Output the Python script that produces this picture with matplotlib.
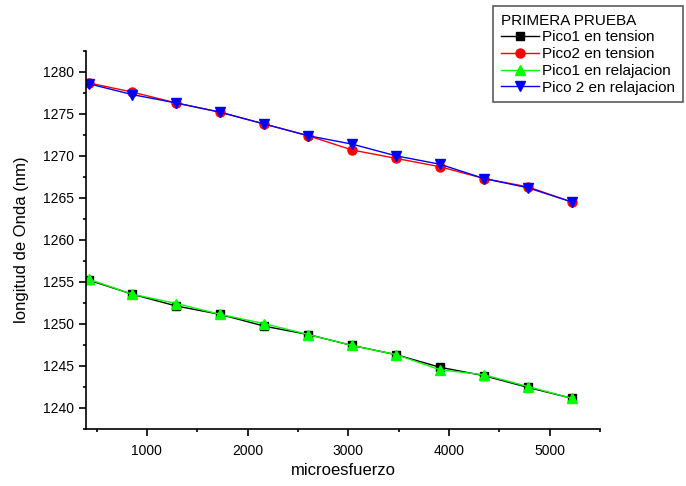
import matplotlib
matplotlib.use("Agg")
import matplotlib.pyplot as plt
from matplotlib.ticker import MultipleLocator

plt.rcParams['font.family'] = ['Liberation Sans', 'DejaVu Sans']

x = [420, 856, 1293, 1729, 2165, 2602, 3038, 3475, 3911, 4347, 4784, 5220]
pico1_tension = [1255.2, 1253.5, 1252.1, 1251.1, 1249.7, 1248.7, 1247.4, 1246.3, 1244.8, 1243.8, 1242.4, 1241.1]
pico2_tension = [1278.7, 1277.6, 1276.3, 1275.2, 1273.8, 1272.4, 1270.7, 1269.7, 1268.7, 1267.3, 1266.3, 1264.5]
pico1_relajacion = [1255.3, 1253.5, 1252.4, 1251.1, 1250.0, 1248.7, 1247.4, 1246.3, 1244.5, 1243.9, 1242.5, 1241.1]
pico2_relajacion = [1278.6, 1277.3, 1276.3, 1275.2, 1273.8, 1272.4, 1271.4, 1270.0, 1269.0, 1267.3, 1266.2, 1264.5]

labels = ["Pico1 en tension", "Pico2 en tension", "Pico1 en relajacion", "Pico 2 en relajacion"]
legend_title = "PRIMERA PRUEBA"
xlabel = "microesfuerzo"
ylabel = "longitud de Onda (nm)"

fig = plt.figure(figsize=(6.86, 4.86), dpi=100)
ax = fig.add_axes([86/686, 1-428.5/486, (600-86)/686, (428.5-51)/486])

ax.plot(x, pico1_tension, color='black', marker='s', markersize=5.5, linewidth=1, label=labels[0])
ax.plot(x, pico2_tension, color='red', marker='o', markersize=6.5, linewidth=1, label=labels[1])
ax.plot(x, pico1_relajacion, color='#00ff00', marker='^', markersize=7, linewidth=1, label=labels[2])
ax.plot(x, pico2_relajacion, color='blue', marker='v', markersize=7, linewidth=1, label=labels[3])

ax.set_xlim(395, 5500)
ax.set_ylim(1237.5, 1282.5)
ax.xaxis.set_major_locator(MultipleLocator(1000))
ax.xaxis.set_minor_locator(MultipleLocator(500))
ax.yaxis.set_major_locator(MultipleLocator(5))
ax.yaxis.set_minor_locator(MultipleLocator(2.5))

for s in ['top', 'right']:
    ax.spines[s].set_visible(False)
for s in ['left', 'bottom']:
    ax.spines[s].set_linewidth(1.2)

ax.tick_params(which='major', direction='out', length=5, width=1.2, labelsize=10)
ax.tick_params(which='minor', direction='out', length=2.5, width=1.2)
ax.tick_params(axis='x', pad=6)

ax.set_xlabel(xlabel, fontsize=12, labelpad=4)
ax.set_ylabel(ylabel, fontsize=12, labelpad=10)

leg = fig.legend(loc='upper left', bbox_to_anchor=(493/686, 1-6/486), title=legend_title,
                 alignment='left', fontsize=11, title_fontsize=11, frameon=True, fancybox=False,
                 handlelength=2.5, handletextpad=0.2, borderpad=0.5, labelspacing=0.18,
                 borderaxespad=0)
leg.get_frame().set_edgecolor('#333333')
leg.get_frame().set_linewidth(1.2)

fig.savefig('out.png', dpi=100)
